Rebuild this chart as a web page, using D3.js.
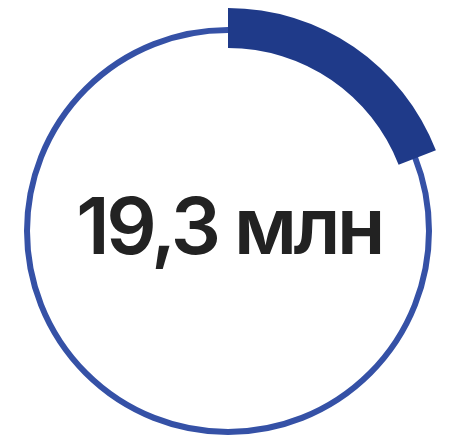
<!DOCTYPE html>
<html>
<head>
<meta charset="utf-8">
<script src="https://cdn.jsdelivr.net/npm/d3@7"></script>
<style>
  html, body { margin: 0; padding: 0; background: #fff; }
  svg { display: block; }
</style>
</head>
<body>
<svg id="chart"></svg>
<script>
// value shown in the ring and the total it is a share of
const shareValues = [19.3];
const shareTotal = 101;
const label = '19,3 млн';

let width = 461;
let height = 437;
let cx = 228;
let cy = 231;

let svg = d3.select('#chart')
  .attr('width', width)
  .attr('height', height);

let g = svg.append('g')
  .attr('transform', 'translate(' + cx + ',' + cy + ')');

// thin background ring
g.append('circle')
  .attr('r', 201)
  .style('fill', 'none')
  .style('stroke', '#3551a6')
  .style('stroke-width', 6);

let angle = d3.scaleLinear()
  .domain([0, shareTotal])
  .range([0, 2 * Math.PI]);

let arc = d3.arc()
  .innerRadius(183)
  .outerRadius(223)
  .startAngle(0)
  .endAngle((d) => angle(d));

g.selectAll('path.share')
  .data(shareValues)
  .enter()
  .append('path')
  .attr('class', 'share')
  .attr('d', arc)
  .style('fill', '#1f3a89');

g.append('text')
  .attr('x', 1)
  .attr('y', 23)
  .attr('text-anchor', 'middle')
  .style('font-family', 'Inter, "Noto Sans", sans-serif')
  .style('font-size', '79px')
  .style('font-weight', 600)
  .style('letter-spacing', '-3.5px')
  .style('fill', '#222')
  .text(label);
</script>
</body>
</html>
